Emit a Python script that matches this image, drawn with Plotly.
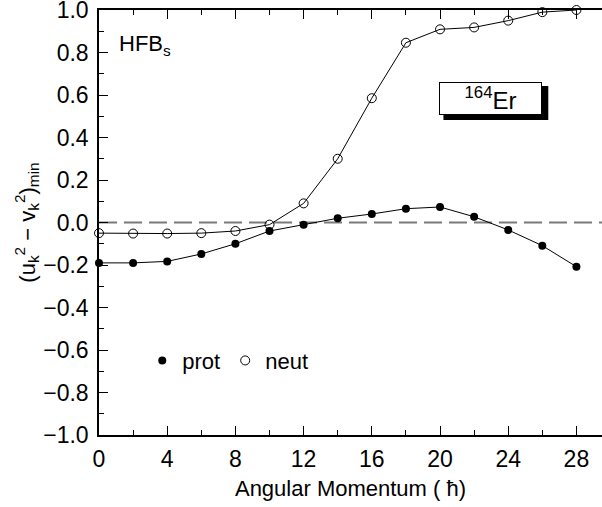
import plotly.graph_objects as go

# Data
ang_mom = [0, 2, 4, 6, 8, 10, 12, 14, 16, 18, 20, 22, 24, 26, 28]
prot = [-0.19, -0.19, -0.183, -0.148, -0.10, -0.04, -0.01, 0.02, 0.04, 0.065, 0.073, 0.027, -0.035, -0.109, -0.208]
neut = [-0.05, -0.052, -0.052, -0.05, -0.04, -0.01, 0.09, 0.30, 0.585, 0.846, 0.909, 0.918, 0.95, 0.99, 1.0]
x_ticks = [0, 4, 8, 12, 16, 20, 24, 28]
y_ticks = [-1.0, -0.8, -0.6, -0.4, -0.2, 0.0, 0.2, 0.4, 0.6, 0.8, 1.0]

FONT = "Liberation Sans, Arial, sans-serif"

fig = go.Figure()
fig.add_trace(go.Scatter(x=ang_mom, y=neut, mode="lines+markers",
                         line=dict(color="black", width=1),
                         marker=dict(symbol="circle-open", size=9, color="black", line=dict(width=1)),
                         showlegend=False, cliponaxis=False))
fig.add_trace(go.Scatter(x=ang_mom, y=prot, mode="lines+markers",
                         line=dict(color="black", width=1),
                         marker=dict(symbol="circle", size=8, color="black"),
                         showlegend=False, cliponaxis=False))
# legend entries
fig.add_trace(go.Scatter(x=[None], y=[None], mode="markers", name="prot",
                         marker=dict(symbol="circle", size=8, color="black")))
fig.add_trace(go.Scatter(x=[None], y=[None], mode="markers", name="neut",
                         marker=dict(symbol="circle-open", size=9, color="black", line=dict(width=1))))

# zero dashed line
fig.add_shape(type="line", xref="paper", yref="y", x0=0, x1=1, y0=0, y1=0,
              line=dict(color="#7a7a7a", width=2, dash="18px,7px"), layer="below")

# 164Er box with shadow
fig.add_shape(type="rect", xref="x", yref="y", x0=20.2, x1=26.35, y0=0.482, y1=0.642,
              fillcolor="black", line=dict(width=0), layer="above")
fig.add_annotation(x=19.94, y=0.661, xref="x", yref="y", xanchor="left", yanchor="top",
                   text="<sup>164</sup>Er", showarrow=False,
                   font=dict(family=FONT, size=24, color="black"),
                   bgcolor="white", bordercolor="black", borderwidth=1,
                   width=101, height=31, align="center", borderpad=0)

fig.add_annotation(x=1.05, y=0.835, xref="x", yref="y", xanchor="left", yanchor="middle",
                   text="HFB<sub>s</sub>", showarrow=False,
                   font=dict(family=FONT, size=22, color="black"))

fig.update_layout(
    width=602, height=507,
    margin=dict(l=99, r=0, t=10, b=72),
    paper_bgcolor="white", plot_bgcolor="white",
    font=dict(family=FONT, size=22, color="black"),
    legend=dict(orientation="h", x=0.086, y=0.175, xanchor="left", yanchor="middle",
                bgcolor="rgba(0,0,0,0)", font=dict(size=22), itemwidth=30,
                tracegroupgap=0),
    xaxis=dict(range=[0, 29.5], tickvals=x_ticks, ticks="inside", ticklen=9, tickwidth=1,
               tickcolor="black", showline=True, linecolor="black", linewidth=1.5,
               mirror="allticks", showgrid=False, zeroline=False, automargin=False,
               minor=dict(dtick=2, ticks="inside", ticklen=5, tickcolor="black", showgrid=False),
               title=dict(text="Angular Momentum ( ħ)", font=dict(size=22), standoff=9),
               tickfont=dict(size=23), ticklabeloverflow="allow", ticklabelstandoff=3),
    yaxis=dict(range=[-1, 1], tickvals=y_ticks, tickformat=".1f", ticks="inside", ticklen=9,
               tickwidth=1, tickcolor="black", showline=True, linecolor="black", linewidth=1.5,
               mirror=False, showgrid=False, zeroline=False, automargin=False,
               minor=dict(dtick=0.1, ticks="inside", ticklen=5, tickcolor="black", showgrid=False),
               title=dict(text="(u<sub>k</sub><sup>2</sup> − v<sub>k</sub><sup>2</sup>)<sub>min</sub>",
                          font=dict(size=22), standoff=2),
               tickfont=dict(size=23), ticklabeloverflow="allow", ticklabelstandoff=4),
)

fig.write_html("out.html", config={"displayModeBar": False},
               post_script="document.body.style.margin='0';document.body.style.overflow='hidden';")
